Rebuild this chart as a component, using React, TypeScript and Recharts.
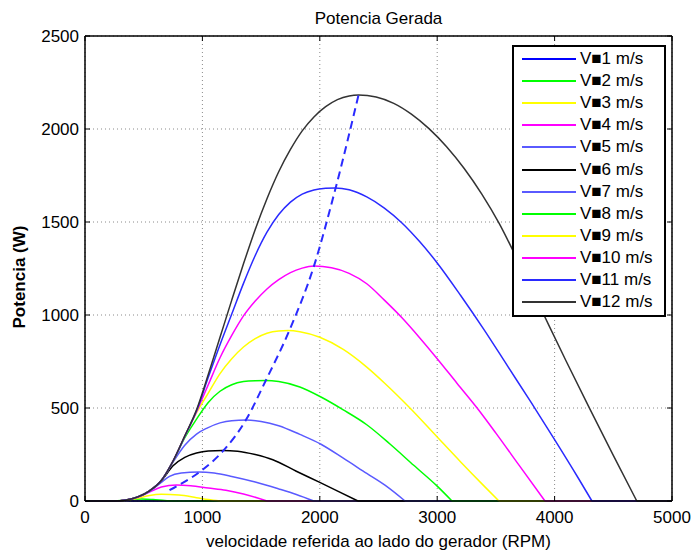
import { LineChart, Line, XAxis, YAxis, CartesianGrid, Legend, ReferenceLine } from "recharts";

// potencia x rotacao: [rpm, W]
const X_TICKS = [0, 1000, 2000, 3000, 4000, 5000];
const Y_TICKS = [0, 500, 1000, 1500, 2000, 2500];

const V1 = [[0, 0], [250, 0], [300, 1.3], [350, 1.4], [390, 0]];
const V2 = [[0, 0], [250, 0], [320, 3], [400, 9], [480, 11], [580, 8], [680, 3], [780, 0]];
const V3 = [[0, 0], [250, 0], [350, 4], [450, 15], [550, 30], [650, 36], [800, 32], [950, 18], [1050, 8], [1150, 0]];
const V4 = [[0, 0], [250, 0], [350, 5], [450, 20], [550, 48], [650, 75], [780, 86], [900, 82], [1050, 70], [1200, 58], [1350, 38], [1550, 0]];
const V5 = [[0, 0], [250, 0], [350, 5], [450, 22], [550, 52], [650, 100], [720, 132], [820, 150], [970, 156], [1100, 150], [1250, 132], [1450, 102], [1650, 65], [1800, 35], [1950, 0]];
const V6 = [[0, 0], [250, 0], [350, 5], [450, 22], [550, 55], [650, 108], [750, 190], [850, 235], [950, 258], [1050, 269], [1170, 272], [1300, 268], [1450, 250], [1600, 222], [1800, 160], [2000, 100], [2170, 48], [2325, 0]];
const V7 = [[0, 0], [250, 0], [350, 5], [450, 22], [550, 55], [650, 110], [750, 210], [850, 300], [950, 360], [1040, 392], [1150, 420], [1250, 432], [1370, 435], [1500, 428], [1650, 405], [1830, 358], [2010, 305], [2200, 230], [2400, 148], [2555, 85], [2726, 0]];
const V8 = [[0, 0], [250, 0], [350, 5], [450, 22], [550, 55], [650, 110], [750, 213], [850, 340], [950, 440], [1050, 530], [1150, 590], [1250, 625], [1350, 642], [1450, 647], [1540, 648], [1650, 642], [1830, 613], [2010, 559], [2200, 490], [2400, 410], [2600, 305], [2800, 192], [3000, 80], [3126, 0]];
const V9 = [[0, 0], [250, 0], [350, 5], [450, 22], [550, 55], [650, 110], [750, 214], [850, 348], [950, 475], [1050, 580], [1150, 685], [1250, 765], [1350, 828], [1450, 873], [1550, 902], [1650, 914], [1729, 916], [1830, 910], [2000, 880], [2200, 815], [2400, 720], [2555, 632], [2768, 500], [3000, 344], [3200, 210], [3400, 80], [3526, 0]];
const V10 = [[0, 0], [250, 0], [350, 5], [450, 22], [550, 55], [650, 110], [750, 214], [850, 348], [950, 480], [1050, 625], [1150, 770], [1250, 890], [1350, 995], [1450, 1075], [1550, 1140], [1650, 1190], [1750, 1228], [1850, 1252], [1950, 1263], [2100, 1254], [2250, 1224], [2400, 1168], [2550, 1080], [2700, 985], [2850, 878], [3000, 765], [3170, 632], [3340, 500], [3500, 365], [3700, 190], [3918, 0]];
const V11 = [[0, 0], [250, 0], [350, 5], [450, 22], [550, 55], [650, 110], [750, 214], [850, 348], [950, 485], [1050, 665], [1150, 840], [1250, 1005], [1350, 1170], [1450, 1320], [1550, 1445], [1650, 1540], [1750, 1607], [1850, 1650], [1950, 1672], [2050, 1681], [2130, 1683], [2250, 1673], [2400, 1635], [2550, 1575], [2700, 1495], [2850, 1395], [3000, 1280], [3200, 1105], [3400, 920], [3600, 725], [3800, 530], [4000, 330], [4200, 125], [4318, 0]];
const V12 = [[0, 0], [250, 0], [350, 5], [450, 22], [550, 55], [650, 110], [750, 215], [850, 350], [950, 490], [1050, 680], [1150, 880], [1250, 1080], [1350, 1275], [1450, 1460], [1550, 1625], [1650, 1770], [1750, 1890], [1850, 1990], [1950, 2065], [2050, 2120], [2150, 2158], [2250, 2178], [2330, 2183], [2480, 2172], [2630, 2138], [2780, 2080], [2930, 2002], [3080, 1905], [3230, 1788], [3380, 1650], [3530, 1490], [3700, 1275], [3900, 1012], [4100, 750], [4300, 495], [4500, 245], [4700, 0]];

// curva de maxima potencia (tracejada)
const MPPT = [[720, 58], [800, 86], [980, 158], [1180, 272], [1370, 435], [1540, 648], [1740, 916], [1950, 1263], [2135, 1683], [2330, 2183]];

const SERIES = [
  { name: "V■1 m/s", data: V1, color: "#0000ff" },
  { name: "V■2 m/s", data: V2, color: "#00ff00" },
  { name: "V■3 m/s", data: V3, color: "#ffff00" },
  { name: "V■4 m/s", data: V4, color: "#ff00ff" },
  { name: "V■5 m/s", data: V5, color: "#5a5aff" },
  { name: "V■6 m/s", data: V6, color: "#000000" },
  { name: "V■7 m/s", data: V7, color: "#5a5aff" },
  { name: "V■8 m/s", data: V8, color: "#00ff00" },
  { name: "V■9 m/s", data: V9, color: "#ffff00" },
  { name: "V■10 m/s", data: V10, color: "#ff00ff" },
  { name: "V■11 m/s", data: V11, color: "#2a2aff" },
  { name: "V■12 m/s", data: V12, color: "#333333" },
];

const W = 695;
const H = 551;
const PLOT_R = 672;
const PLOT_T = 36;
const FONT = '"Liberation Sans", Arial, sans-serif';

const toPts = (arr: number[][]) => arr.map(([x, y]) => ({ x, y }));
const tail = (arr: number[][]) => [{ x: arr[arr.length - 1][0], y: 0 }, { x: 5000, y: 0 }];

const YTick = ({ x, y, payload }: any) => (
  <g>
    <line x1={x} x2={x + 5} y1={y} y2={y} stroke="#000" />
    <line x1={PLOT_R} x2={PLOT_R - 5} y1={y} y2={y} stroke="#000" />
    <text x={x - 6} y={y} textAnchor="end" dominantBaseline="central" fontSize={17} fill="#000" fontFamily={FONT}>
      {payload.value}
    </text>
  </g>
);

const XTick = ({ x, y, payload }: any) => (
  <g>
    <line x1={x} x2={x} y1={y} y2={y - 5} stroke="#000" />
    <line x1={x} x2={x} y1={PLOT_T} y2={PLOT_T + 5} stroke="#000" />
    <text x={x} y={y + 22} textAnchor="middle" fontSize={17} fill="#000" fontFamily={FONT}>
      {payload.value}
    </text>
  </g>
);

const LegendBox = () => (
  <div
    style={{
      boxSizing: "border-box",
      width: 154,
      height: 272,
      border: "2px solid #000",
      background: "#fff",
      paddingTop: 1,
      fontFamily: FONT,
    }}
  >
    {SERIES.map((s) => (
      <div key={s.name} style={{ display: "flex", alignItems: "center", height: 22.1 }}>
        <svg width={54} height={4} style={{ marginLeft: 8 }}>
          <line x1={0} x2={54} y1={2} y2={2} stroke={s.color} strokeWidth={2} />
        </svg>
        <span style={{ marginLeft: 4, fontSize: 17, color: "#000", whiteSpace: "nowrap" }}>{s.name}</span>
      </div>
    ))}
  </div>
);

export default function App() {
  return (
    <div style={{ position: "absolute", left: 0, top: 0, width: W, height: H, background: "#fff", fontFamily: FONT }}>
      <LineChart width={W} height={H} margin={{ top: PLOT_T, right: W - PLOT_R, bottom: 0, left: 0 }}>
        <CartesianGrid stroke="#8a8a8a" strokeDasharray="1 3" />
        <XAxis
          type="number"
          dataKey="x"
          domain={[0, 5000]}
          ticks={X_TICKS}
          height={50}
          tickSize={0}
          tickMargin={0}
          tick={<XTick />}
          axisLine={{ stroke: "#000", strokeWidth: 1.5 }}
          tickLine={false}
          label={{ value: "velocidade referida ao lado do gerador (RPM)", position: "insideBottom", offset: 4, fill: "#000", fontSize: 17 }}
        />
        <YAxis
          type="number"
          dataKey="y"
          domain={[0, 2500]}
          ticks={Y_TICKS}
          width={85}
          tickSize={0}
          tickMargin={0}
          tick={<YTick />}
          axisLine={{ stroke: "#000", strokeWidth: 1.5 }}
          tickLine={false}
          label={() => (
            <text x={19} y={277} transform="rotate(-90 19 277)" textAnchor="middle" dominantBaseline="central" fontSize={17} fontWeight="bold" fill="#000" fontFamily={FONT}>
              Potencia (W)
            </text>
          )}
        />
        <ReferenceLine x={5000} stroke="#000" strokeWidth={1.5} />
        <ReferenceLine
          y={2500}
          stroke="#000"
          strokeWidth={1.5}
          label={{ value: "Potencia Gerada", position: "top", offset: 12, fill: "#000", fontSize: 17 }}
        />
        {SERIES.map((s) => [
          <Line
            key={s.name}
            data={toPts(s.data)}
            dataKey="y"
            type="monotone"
            stroke={s.color}
            strokeWidth={1.5}
            dot={false}
            isAnimationActive={false}
          />,
          <Line
            key={s.name + "-tail"}
            data={tail(s.data)}
            dataKey="y"
            type="linear"
            stroke={s.color}
            strokeWidth={1.5}
            dot={false}
            legendType="none"
            isAnimationActive={false}
          />,
        ])}
        <Line
          data={toPts(MPPT)}
          dataKey="y"
          type="monotone"
          stroke="#2a2aff"
          strokeWidth={2}
          strokeDasharray="8 5"
          dot={false}
          legendType="none"
          isAnimationActive={false}
        />
        <Legend
          content={LegendBox}
          layout="horizontal"
          verticalAlign="middle"
          align="center"
          wrapperStyle={{ left: 512, top: 45, width: 154, height: 272 }}
        />
      </LineChart>
    </div>
  );
}
